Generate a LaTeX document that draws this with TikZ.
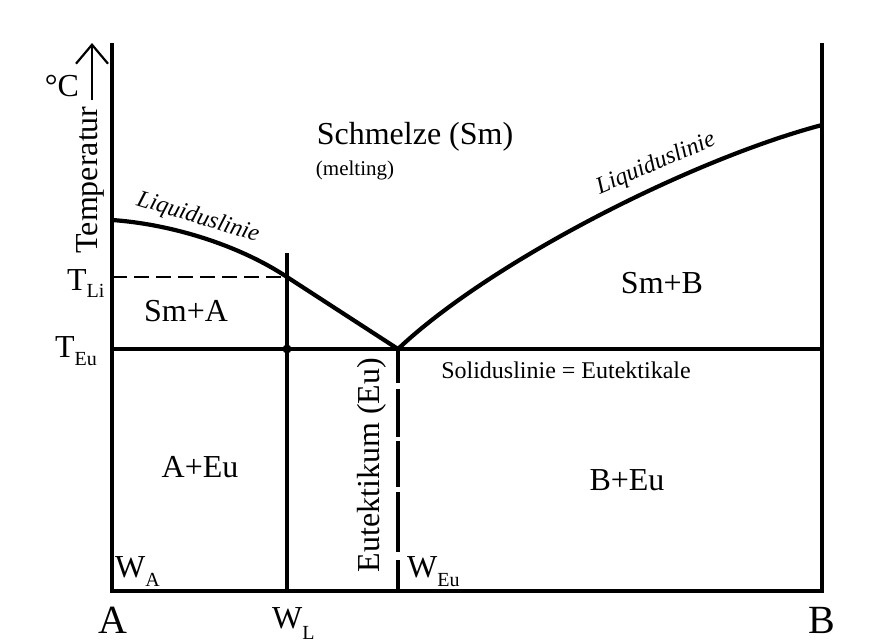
\documentclass[tikz,border=0pt]{standalone}
\usepackage{fontspec}
\setmainfont{Liberation Serif}
\usetikzlibrary{arrows.meta}
\newcommand\lowsub[2][9pt]{\raisebox{-#1}{\fontsize{20}{20}\selectfont #2}}
\tikzset{
  axisline/.style={line width=3.2pt},
  thickline/.style={line width=4.2pt},
  lbl/.style={inner sep=0pt, font=\fontsize{32}{36}\selectfont},
  biglbl/.style={inner sep=0pt, font=\fontsize{40}{44}\selectfont},
  smalllbl/.style={inner sep=0pt, font=\fontsize{24}{28}\selectfont},
  curvelbl/.style={inner sep=0pt, font=\fontsize{24}{28}\selectfont\itshape},
}
\begin{document}
\begin{tikzpicture}[x=1pt,y=-1pt]
\useasboundingbox (0,0) rectangle (886,643);
% coordinates
\coordinate (tl) at (112,45);
\coordinate (bl) at (112,591);
\coordinate (tr) at (822,45);
\coordinate (br) at (822,591);
\coordinate (eul) at (112,349);
\coordinate (eur) at (822,349);
\coordinate (eu) at (398,349);
\coordinate (eub) at (398,591);
\coordinate (lqa) at (112,220);
\coordinate (lqb) at (822,125);
\coordinate (wlt) at (287,253);
\coordinate (wlb) at (287,591);
\coordinate (wlm) at (287,349);
\coordinate (lix) at (287,277);
\coordinate (lil) at (112,277);
\coordinate (arb) at (92,100);
\coordinate (art) at (92,43);
% frame
\draw[axisline, line cap=rect] (tl) -- (bl) -- (br) -- (tr);
% eutectic line
\draw[thickline] (eul) -- (eur);
% liquidus
\draw[thickline, line join=round] (lqa) .. controls (170,224) and (238,244.5) .. (lix) -- (eu);
\draw[thickline, line join=round] (eu) .. controls (490,262) and (690,160) .. (lqb);
% W_L line
\draw[axisline] (wlt) -- (wlb);
\fill (wlm) circle (4.5);
% dashed T_Li line
\draw[line width=2pt, dash pattern=on 15pt off 7pt] (lil) -- (lix);
% eutectic vertical
\draw[axisline, dash pattern=on 34pt off 6pt on 48pt off 4pt on 46pt off 5pt on 60pt off 8pt on 60pt off 0pt] (eu) -- (eub);
% temperature arrow
\draw[line width=2.2pt, -{Straight Barb[length=19pt,width=32pt,line width=2.2pt]}] (arb) -- (art);
% labels
\node[lbl, rotate=90, anchor=base] (temp) at (97,180) {Temperatur};
\node[lbl] (degc) at (62,86) {°C};
\node[lbl, anchor=base west] (tli) at (67,290) {T\lowsub[7pt]{Li}};
\node[lbl, anchor=base west] (teu) at (55,357) {T\lowsub[8pt]{Eu}};
\node[lbl] (schmelze) at (415,137) {Schmelze (Sm)};
\node[inner sep=0pt, font=\fontsize{21}{24}\selectfont] (melting) at (355,170) {(melting)};
\node[curvelbl, rotate=-17] (liql) at (198,218) {Liquiduslinie};
\node[curvelbl, rotate=23] (liqr) at (656,164) {Liquiduslinie};
\node[lbl] (sma) at (186,311) {Sm+A};
\node[lbl] (smb) at (662,283) {Sm+B};
\node[smalllbl] (sol) at (566,370) {Soliduslinie = Eutektikale};
\node[lbl] (aeu) at (200,467) {A+Eu};
\node[lbl] (beu) at (627,480) {B+Eu};
\node[lbl, rotate=90, anchor=base] (eutk) at (379,465) {Eutektikum (Eu)};
\node[lbl, anchor=base west] (wa) at (115,577) {W\lowsub{A}};
\node[lbl, anchor=base west] (weu) at (407,577) {W\lowsub{Eu}};
\node[lbl, anchor=base west] (wl) at (272,628) {W\lowsub[11pt]{L}};
\node[biglbl, anchor=base west] (a) at (98,633) {A};
\node[biglbl, anchor=base west] (b) at (808,633) {B};
\end{tikzpicture}
\end{document}
